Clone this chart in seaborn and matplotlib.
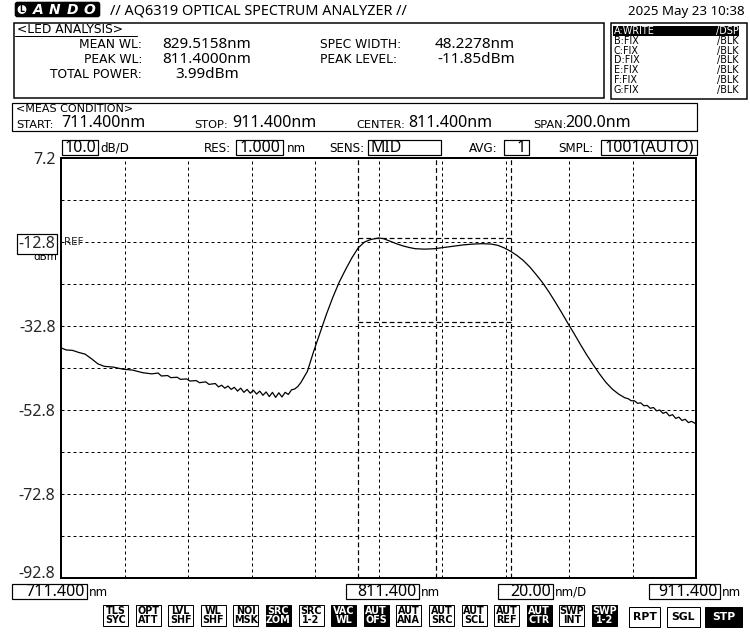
import numpy as np
import pandas as pd
import matplotlib
matplotlib.use("Agg")
import matplotlib.pyplot as plt
import seaborn as sns
from matplotlib.patches import Rectangle, FancyBboxPatch, Circle

# ---------------- data ----------------
wavelength_nm = [711.4, 713, 715, 717, 719, 721, 723, 725, 728, 731, 734, 737, 740, 742, 743,
                 745, 746, 748, 749, 751, 752, 754, 755, 757, 758, 760, 761, 762, 763, 764,
                 765, 766, 767, 768, 769, 770, 771, 772, 773, 774, 775, 776, 777, 778, 779,
                 780, 781, 782, 783, 784, 785, 786, 787, 789, 791, 793, 795, 797, 799, 801,
                 803, 805, 807, 809, 811.4, 813, 815, 817, 819, 821, 823, 826, 829, 832, 835,
                 838, 841, 844, 847, 849, 851, 853, 855, 857, 859, 861, 863, 865, 867, 869,
                 871, 873, 875, 877, 879, 881, 883, 885, 887, 889, 890, 891, 892, 893, 894,
                 895, 896, 897, 898, 899, 900, 901, 902, 903, 904, 905, 906, 907, 908, 909,
                 910, 911.4]
level_dbm = [-38.0, -38.5, -38.6, -39.1, -39.5, -40.6, -41.8, -42.4, -42.6, -43.1, -43.3, -43.9, -44.2, -44.0, -44.7,
             -44.6, -45.1, -45.0, -45.5, -45.4, -45.9, -45.8, -46.3, -46.1, -46.7, -46.5, -47.3, -46.9, -47.6, -47.1,
             -47.9, -47.4, -48.3, -47.6, -48.6, -47.9, -48.8, -48.1, -49.0, -48.3, -49.3, -48.5, -49.6, -48.6, -49.8,
             -48.7, -49.7, -48.6, -49.1, -48.0, -47.8, -47.2, -46.2, -43.6, -38.8, -34.4, -30.0, -26.0, -22.4, -19.4,
             -16.6, -14.2, -12.8, -12.2, -11.85, -12.0, -12.6, -13.2, -13.7, -14.1, -14.4, -14.5, -14.4, -14.1, -13.8,
             -13.5, -13.3, -13.2, -13.3, -13.6, -14.2, -15.0, -16.0, -17.2, -18.7, -20.5, -22.4, -24.6, -27.0, -29.5,
             -32.1, -34.6, -37.2, -39.7, -42.0, -44.2, -46.2, -47.8, -49.0, -49.9, -50.1, -50.6, -50.6, -51.2, -51.1,
             -51.8, -51.7, -52.4, -52.2, -53.0, -52.8, -53.6, -53.3, -54.2, -53.9, -54.8, -54.5, -55.3, -55.0, -55.8,
             -55.5, -56.1]

start_nm, stop_nm = 711.4, 911.4
top_dbm, db_per_div = 7.2, 10.0
y_label_values = [7.2, -12.8, -32.8, -52.8, -72.8, -92.8]
marker_left_nm, marker_mean_nm, marker_right_nm = 805.0, 829.5, 853.2
peak_level_dbm = -11.85
width_level_dbm = -31.85

analysis_labels = ["MEAN WL:", "PEAK WL:", "TOTAL POWER:"]
analysis_values = ["829.5158nm", "811.4000nm", "3.99dBm"]
analysis2_labels = ["SPEC WIDTH:", "PEAK LEVEL:"]
analysis2_values = ["48.2278nm", "-11.85dBm"]
trace_names = ["A:WRITE", "B:FIX", "C:FIX", "D:FIX", "E:FIX", "F:FIX", "G:FIX"]
trace_modes = ["/DSP", "/BLK", "/BLK", "/BLK", "/BLK", "/BLK", "/BLK"]
button_labels = ["TLS\nSYC", "OPT\nATT", "LVL\nSHF", "WL\nSHF", "NOI\nMSK", "SRC\nZOM", "SRC\n1-2", "VAC\nWL",
                 "AUT\nOFS", "AUT\nANA", "AUT\nSRC", "AUT\nSCL", "AUT\nREF", "AUT\nCTR", "SWP\nINT", "SWP\n1-2"]
button_active = [False, False, False, False, False, True, False, True,
                 True, False, False, False, False, True, False, True]
sweep_labels = ["RPT", "SGL", "STP"]
sweep_active = [False, False, True]

# ---------------- style ----------------
sns.set_style("white")
plt.rcParams['font.family'] = ['DejaVu Sans']
NARROW = dict(family='Noto Sans', stretch='condensed')
PX = 0.72  # points per pixel at 100 dpi

fig = plt.figure(figsize=(7.5, 6.39), dpi=100)
fig.patch.set_facecolor('white')
ov = fig.add_axes([0, 0, 1, 1])
ov.set_xlim(0, 750)
ov.set_ylim(639, 0)
ov.axis('off')


def box(x0, y0, x1, y1, lw=1.0, fc='none', ec='black'):
    ov.add_patch(Rectangle((x0, y0), x1 - x0, y1 - y0, fill=(fc != 'none'), facecolor=fc,
                           edgecolor=ec, lw=lw * PX))


def txt(x, y, s, size, ha='left', va='center', color='black', narrow=False, weight='normal', **kw):
    fk = dict(NARROW) if narrow else dict(family='DejaVu Sans')
    ov.text(x, y, s, fontsize=size, ha=ha, va=va, color=color, fontweight=weight, **fk, **kw)


# logo
ov.add_patch(FancyBboxPatch((16, 3), 83, 13, boxstyle="round,pad=0.6,rounding_size=2",
                            facecolor='black', edgecolor='black', lw=1))
ov.add_patch(Circle((22, 9.5), 5, facecolor='white', edgecolor='black', lw=0.8))
txt(22, 9.7, "L", 5.5, ha='center', weight='bold')
for i, ch in enumerate("ANDO"):
    txt(38 + i * 17, 10, ch, 10, ha='center', color='white', weight='bold', style='italic')
txt(110, 11, "// AQ6319 OPTICAL SPECTRUM ANALYZER //", 10.4, narrow=True)
txt(745, 11, "2025 May 23 10:38", 9.6, ha='right', narrow=True)

# LED analysis box
box(14, 23, 604, 98, lw=1.5)
txt(17, 29.5, "<LED ANALYSIS>", 8.8)
ov.plot([15, 137], [36, 36], color='black', lw=1 * PX)
for i, (l, v) in enumerate(zip(analysis_labels, analysis_values)):
    yy = 45 + i * 14.5
    txt(142, yy, l, 8.8, ha='right')
    txt(207 if i == 2 else 162, yy, v, 11, ha='center' if i == 2 else 'left', narrow=True)
for i, (l, v) in enumerate(zip(analysis2_labels, analysis2_values)):
    yy = 45 + i * 14.5
    txt(320, yy, l, 8.8)
    txt(515, yy, v, 11, ha='right', narrow=True)

# trace list box
box(611, 23, 747, 99, lw=1.5)
for i, (n, m) in enumerate(zip(trace_names, trace_modes)):
    yy = 31 + i * 9.8
    col = 'black'
    if i == 0:
        box(613, yy - 4.6, 739, yy + 4.6, lw=0, fc='black')
        col = 'white'
    txt(614, yy, n, 6.9, color=col)
    txt(739, yy, m, 6.9, ha='right', color=col)

# measurement condition
box(12, 103, 697, 131, lw=1.2)
txt(16, 109.5, "<MEAS CONDITION>", 8)
meas = [("START:", 16, "711.400nm", 61), ("STOP:", 194, "911.400nm", 232),
        ("CENTER:", 356, "811.400nm", 408), ("SPAN:", 533, "200.0nm", 565)]
for lab, lx, val, vx in meas:
    txt(lx, 124.5, lab, 8.2)
    txt(vx, 123, val, 11.5, narrow=True)

# settings row
settings = [(62, 98, "10.0", 100, "dB/D", None, 'center'),
            (236, 283, "1.000", 287, "nm", ("RES:", 204), 'center'),
            (368, 441, "MID", None, None, ("SENS:", 329), 'left'),
            (504, 529, "1", None, None, ("AVG:", 469), 'right'),
            (601, 697, "1001(AUTO)", None, None, ("SMPL:", 558), 'center')]
for x0, x1, val, ux, unit, lab, al in settings:
    box(x0, 140, x1, 155, lw=1.2)
    if al == 'center':
        txt((x0 + x1) / 2, 147.5, val, 11.5, ha='center', narrow=True)
    elif al == 'left':
        txt(x0 + 2, 147.5, val, 11.5, ha='left', narrow=True)
    else:
        txt(x1 - 3, 147.5, val, 11.5, ha='right', narrow=True)
    if unit:
        txt(ux, 148, unit, 8.6)
    if lab:
        txt(lab[1], 148, lab[0], 8.6)

# bottom wavelength boxes
bottom = [(12, 87, "711.400", "nm"), (346, 419, "811.400", "nm"),
          (498, 553, "20.00", "nm/D"), (649, 720, "911.400", "nm")]
for x0, x1, val, unit in bottom:
    box(x0, 584, x1, 599, lw=1.2)
    txt(x1 - 2, 591.5, val, 11.5, ha='right', narrow=True)
    txt(x1 + 2, 592, unit, 8.6)

# buttons
for i, (lab, act) in enumerate(zip(button_labels, button_active)):
    x0 = 103 + i * 32.6
    box(x0, 605, x0 + 25, 626, lw=1.0, fc='black' if act else 'white')
    txt(x0 + 12.5, 615.7, lab, 6.9, ha='center', color='white' if act else 'black',
        weight='bold', linespacing=0.8)
for (lab, act), (x0, x1) in zip(zip(sweep_labels, sweep_active), [(629, 660), (667, 700), (705, 742)]):
    box(x0, 607, x1, 627, lw=1.0, fc='black' if act else 'white')
    txt((x0 + x1) / 2, 617, lab, 7.8, ha='center', color='white' if act else 'black', weight='bold')

# ---------------- spectrum plot ----------------
ax = fig.add_axes([61 / 750, 61 / 639, 635 / 750, 420 / 639])
ax.set_facecolor('white')
df = pd.DataFrame({"wl": wavelength_nm, "dbm": level_dbm})
sns.lineplot(data=df, x="wl", y="dbm", ax=ax, color='black', lw=0.9, estimator=None, sort=False)

bottom_dbm = top_dbm - 10 * db_per_div
ax.set_xlim(start_nm, stop_nm)
ax.set_ylim(bottom_dbm, top_dbm)
xt = [start_nm + k * (stop_nm - start_nm) / 10 for k in range(11)]
yt = [bottom_dbm + k * db_per_div for k in range(11)]
ax.set_xticks(xt)
ax.set_xticklabels([])
ax.set_yticks(yt)
ylabels = []
for v in yt:
    match = [lv for lv in y_label_values if abs(lv - v) < 1e-6]
    ylabels.append(f"{v:.1f}" if match else "")
ax.set_yticklabels(ylabels, fontsize=11.5, **NARROW)
ax.tick_params(axis='both', length=0, pad=4)
for lab in ax.get_yticklabels():
    if lab.get_text() == "-12.8":
        lab.set_bbox(dict(facecolor='white', edgecolor='black', lw=1.2 * PX, pad=1.2))
    if lab.get_text() == "-92.8":
        lab.set_verticalalignment('baseline')
ax.grid(True, color='black', linestyle=(0, (3, 3)), lw=1.0 * PX)
ax.set_xlabel("")
ax.set_ylabel("")
for sp in ax.spines.values():
    sp.set_color('black')
    sp.set_linewidth(2 * PX)

# analysis markers
for m in [marker_left_nm, marker_mean_nm, marker_right_nm]:
    ax.axvline(m, color='black', lw=1.2 * PX, linestyle=(0, (4, 2.5)))
ax.hlines([peak_level_dbm, width_level_dbm], marker_left_nm, marker_right_nm,
          color='black', lw=1.2 * PX, linestyle=(0, (4, 2.5)))

ax.text(0.004, -12.8, "REF", transform=ax.get_yaxis_transform(), fontsize=7.5, va='center', ha='left')
txt(57, 257.5, "dBm", 7.5, ha='right')

fig.savefig("out.png", dpi=100, facecolor='white')
